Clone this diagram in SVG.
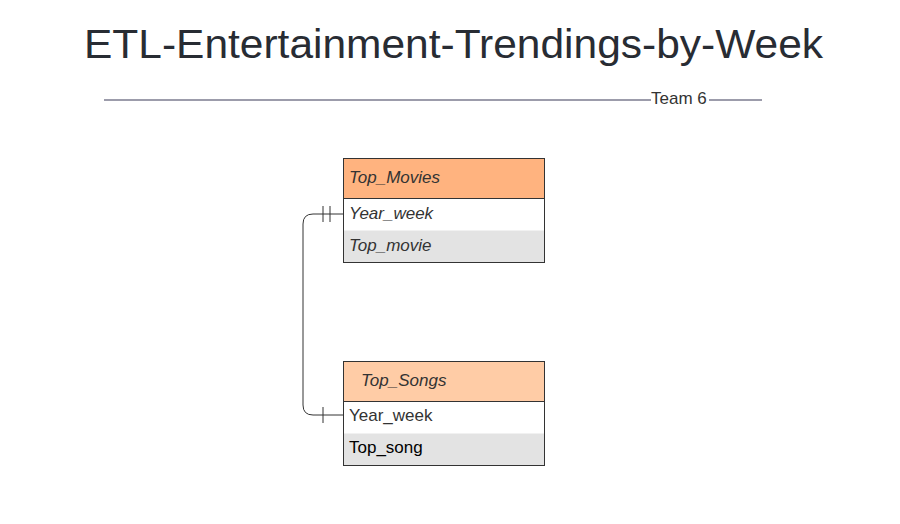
<svg xmlns="http://www.w3.org/2000/svg" width="900" height="524" viewBox="0 0 900 524">
<style>
text{font-family:"Liberation Sans",Arial,sans-serif}
.t{font-size:17px;fill:#333}
.i{font-style:italic}
.box{fill:none;stroke:#333;stroke-width:1}
.ln{stroke:#333;stroke-width:1;fill:none}
</style>
<rect width="900" height="524" fill="#fff"/>
<text x="84" y="58" font-size="41" fill="#282c33" textLength="739" lengthAdjust="spacingAndGlyphs">ETL-Entertainment-Trendings-by-Week</text>
<g id="divider">
<line x1="104" y1="100" x2="651" y2="100" stroke="#9c9cab" stroke-width="2"/>
<line x1="709" y1="100" x2="762" y2="100" stroke="#9c9cab" stroke-width="2"/>
<text x="651" y="104" font-size="17" fill="#333">Team 6</text>
</g>
<g id="connectors">
<path class="ln" d="M343,214 H313 Q303,214 303,224 V405 Q303,415 313,415 H343"/>
<line class="ln" x1="323" y1="206" x2="323" y2="222"/>
<line class="ln" x1="330" y1="206" x2="330" y2="222"/>
<line class="ln" x1="323" y1="407" x2="323" y2="423"/>
</g>
<g id="top_movies">
<rect x="343.5" y="158.5" width="201" height="40" fill="#ffb37f"/>
<rect x="343.5" y="198.5" width="201" height="32" fill="#fff"/>
<rect x="343.5" y="230.5" width="201" height="32" fill="#e3e3e3"/>
<rect class="box" x="343.5" y="158.5" width="201" height="104"/>
<line class="ln" x1="343.5" y1="198.5" x2="544.5" y2="198.5"/>
<text class="t i" x="349" y="183">Top_Movies</text>
<text class="t i" x="349" y="219">Year_week</text>
<text class="t i" x="349" y="251">Top_movie</text>
</g>
<g id="top_songs">
<rect x="343.5" y="361.5" width="201" height="40" fill="#ffcca6"/>
<rect x="343.5" y="401.5" width="201" height="32" fill="#fff"/>
<rect x="343.5" y="433.5" width="201" height="32" fill="#e3e3e3"/>
<rect class="box" x="343.5" y="361.5" width="201" height="104"/>
<line class="ln" x1="343.5" y1="401.5" x2="544.5" y2="401.5"/>
<text class="t i" x="361" y="386">Top_Songs</text>
<text class="t" x="349" y="421">Year_week</text>
<text class="t" x="349" y="453" style="fill:#000">Top_song</text>
</g>
</svg>
